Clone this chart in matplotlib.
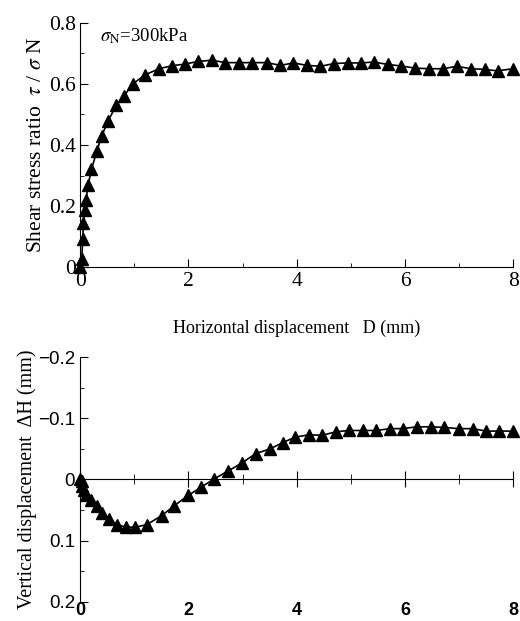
import matplotlib
matplotlib.use("Agg")
import matplotlib.pyplot as plt
from matplotlib.ticker import MultipleLocator

plt.rcParams['mathtext.fontset'] = 'stix'

# shear stress ratio vs horizontal displacement
d_top = [0.0, 0.03, 0.05, 0.06, 0.09, 0.11, 0.15, 0.21, 0.31, 0.40, 0.52, 0.67,
         0.81, 0.97, 1.20, 1.46, 1.70, 1.93, 2.18, 2.44, 2.68, 2.93, 3.17,
         3.45, 3.70, 3.94, 4.19, 4.44, 4.69, 4.94, 5.19, 5.43, 5.68, 5.93,
         6.19, 6.45, 6.70, 6.96, 7.22, 7.47, 7.71, 7.99]
ratio = [0.0, 0.027, 0.093, 0.144, 0.186, 0.22, 0.27, 0.32, 0.38, 0.43, 0.48, 0.53,
         0.56, 0.60, 0.63, 0.65, 0.66, 0.665, 0.674, 0.678, 0.67, 0.67, 0.67,
         0.67, 0.661, 0.669, 0.661, 0.658, 0.667, 0.669, 0.669, 0.672, 0.664, 0.659,
         0.652, 0.650, 0.650, 0.658, 0.650, 0.648, 0.643, 0.650]

# vertical displacement vs horizontal displacement
d_bot = [0.0, 0.03, 0.04, 0.07, 0.11, 0.20, 0.31, 0.40, 0.54, 0.68, 0.85, 1.02,
         1.23, 1.51, 1.74, 2.00, 2.23, 2.48, 2.74, 2.99, 3.24, 3.51, 3.74, 3.97,
         4.23, 4.47, 4.73, 4.97, 5.22, 5.47, 5.72, 5.96, 6.22, 6.48, 6.73,
         6.99, 7.25, 7.50, 7.74, 8.0]
dh = [0.0, 0.002, 0.01, 0.018, 0.025, 0.034, 0.043, 0.055, 0.064, 0.074, 0.078, 0.078,
      0.074, 0.059, 0.043, 0.026, 0.013, -0.001, -0.014, -0.027, -0.042, -0.050, -0.060, -0.069,
      -0.073, -0.072, -0.078, -0.080, -0.080, -0.080, -0.083, -0.083, -0.086, -0.086, -0.085,
      -0.083, -0.083, -0.079, -0.079, -0.079]

top_yticks = [0, 0.2, 0.4, 0.6, 0.8]
top_ylabels = ['0', '0.2', '0.4', '0.6', '0.8']
bot_yticks = [-0.2, -0.1, 0, 0.1, 0.2]
bot_ylabels = ['\u22120.2', '\u22120.1', '0', '0.1', '0.2']
xticks = [0, 2, 4, 6, 8]

serif = 'Liberation Serif'
sans = 'Liberation Sans'

fig = plt.figure(figsize=(5.2, 6.21), dpi=100)
ax1 = fig.add_axes([0.154, 0.570, 0.833, 0.393])
ax2 = fig.add_axes([0.154, 0.031, 0.833, 0.394])

# top panel
ax1.plot(d_top, ratio, color='black', lw=1.2, marker='^', ms=9, clip_on=False)
ax1.set_xlim(0, 8)
ax1.set_ylim(0, 0.8)
ax1.spines['top'].set_visible(False)
ax1.spines['right'].set_visible(False)
ax1.set_xticks(xticks)
ax1.xaxis.set_minor_locator(MultipleLocator(1))
ax1.set_yticks(top_yticks)
ax1.set_yticklabels(top_ylabels)
ax1.yaxis.set_minor_locator(MultipleLocator(0.1))
ax1.tick_params(which='both', direction='in', labelsize=15.5)
ax1.tick_params(axis='y', pad=3)
ax1.tick_params(which='major', length=6)
ax1.tick_params(which='minor', length=3)
for lab in ax1.get_xticklabels() + ax1.get_yticklabels():
    lab.set_family(serif)
ax1.set_ylabel(r'Shear stress ratio  $\tau$ / $\sigma$ N', family=serif, fontsize=15.5, labelpad=2)
ax1.set_xlabel('Horizontal displacement   D (mm)', family=serif, fontsize=13, labelpad=21)
ax1.text(0.045, 0.985, r'$\sigma_{\rm N}$=300kPa', transform=ax1.transAxes,
         family=serif, fontsize=13.5, va='top', ha='left')

# bottom panel
ax2.plot(d_bot, dh, color='black', lw=1.2, marker='^', ms=9, clip_on=False)
ax2.set_xlim(0, 8)
ax2.set_ylim(0.2, -0.2)
ax2.spines['top'].set_visible(False)
ax2.spines['right'].set_visible(False)
ax2.spines['bottom'].set_position(('data', 0))
ax2.set_xticks(xticks)
ax2.xaxis.set_minor_locator(MultipleLocator(1))
ax2.tick_params(axis='x', which='both', direction='inout', labelbottom=False)
ax2.tick_params(axis='x', which='major', length=12)
ax2.tick_params(axis='x', which='minor', length=7)
ax2.set_yticks(bot_yticks)
ax2.set_yticklabels(bot_ylabels)
ax2.yaxis.set_minor_locator(MultipleLocator(0.05))
ax2.tick_params(axis='y', which='both', direction='in', labelsize=13.5)
ax2.tick_params(axis='y', which='major', length=6)
ax2.tick_params(axis='y', which='minor', length=3)
for lab in ax2.get_yticklabels():
    lab.set_family(sans)
ax2.set_ylabel('Vertical displacement  \u0394H (mm)', family=serif, fontsize=14.5, labelpad=1)

sec = ax2.secondary_xaxis(0)
sec.spines['bottom'].set_visible(False)
sec.set_xticks(xticks)
sec.tick_params(length=0, labelsize=13, pad=0)
for lab in sec.get_xticklabels():
    lab.set_family(sans)
    lab.set_fontweight('bold')

fig.savefig('out.png', dpi=100)
